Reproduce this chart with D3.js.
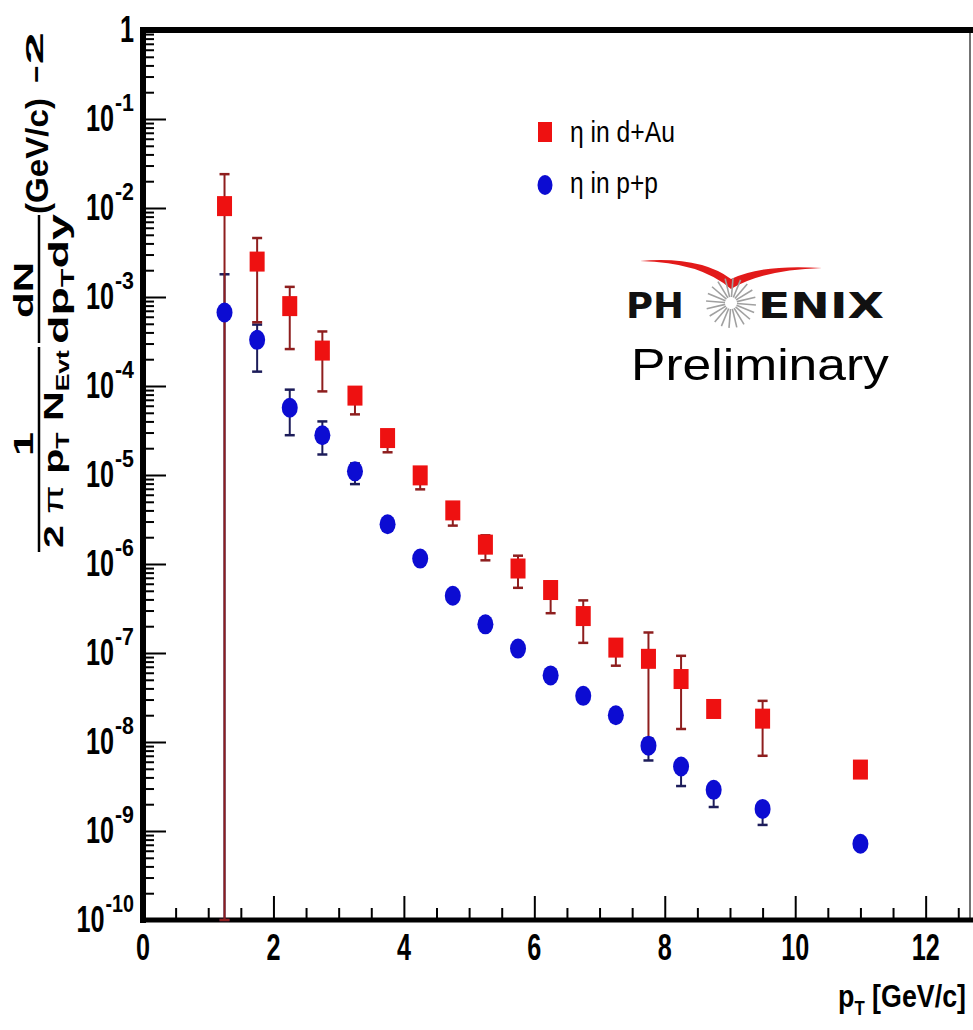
<!DOCTYPE html>
<html><head><meta charset="utf-8">
<script src="https://cdn.jsdelivr.net/npm/d3@7"></script>
<style>body{margin:0;background:#fff}svg{display:block}</style>
</head><body>
<svg id="c" width="973" height="1030"></svg>
<script>
// ---------- data ----------
const pT      = [1.25, 1.75, 2.25, 2.75, 3.25, 3.75, 4.25, 4.75, 5.25, 5.75, 6.25, 6.75, 7.25, 7.75, 8.25, 8.75, 9.5, 11];
const dAuVal  = [1.05e-2, 2.5e-3, 7.9e-4, 2.5e-4, 7.8e-5, 2.6e-5, 9.9e-6, 4.0e-6, 1.65e-6, 8.9e-7, 5.1e-7, 2.6e-7, 1.15e-7, 8.6e-8, 5.1e-8, 2.35e-8, 1.83e-8, 4.9e-9];
const dAuHi   = [2.4e-2, 4.6e-3, 1.3e-3, 4.1e-4, 9.5e-5, 3.1e-5, 1.2e-5, 4.8e-6, 2.1e-6, 1.24e-6, 6.3e-7, 3.9e-7, 1.4e-7, 1.7e-7, 9.3e-8, 2.8e-8, 2.9e-8, 5.6e-9];
const dAuLo   = [0, 5.2e-4, 2.6e-4, 8.7e-5, 4.8e-5, 1.8e-5, 6.9e-6, 2.7e-6, 1.1e-6, 5.4e-7, 2.8e-7, 1.3e-7, 7.2e-8, 1.0e-8, 1.4e-8, 2.0e-8, 7.0e-9, 4.3e-9];
const ppVal   = [6.7e-4, 3.3e-4, 5.7e-5, 2.8e-5, 1.1e-5, 2.8e-6, 1.15e-6, 4.4e-7, 2.1e-7, 1.12e-7, 5.6e-8, 3.3e-8, 2.0e-8, 9.1e-9, 5.3e-9, 2.9e-9, 1.77e-9, 7.2e-10];
const ppHi    = [1.8e-3, 4.9e-4, 9.1e-5, 4.0e-5, 1.35e-5, 3.2e-6, 1.3e-6, 5.0e-7, 2.4e-7, 1.25e-7, 6.3e-8, 3.7e-8, 2.2e-8, 1.1e-8, 6.0e-9, 3.3e-9, 2.0e-9, 8.0e-10];
const ppLo    = [0, 1.45e-4, 2.8e-5, 1.7e-5, 7.9e-6, 2.4e-6, 1.0e-6, 3.9e-7, 1.9e-7, 1.0e-7, 5.0e-8, 2.9e-8, 1.8e-8, 6.2e-9, 3.2e-9, 1.86e-9, 1.17e-9, 6.5e-10];
const seriesNames = ["η in d+Au", "η in p+p"];
const yExponents  = [0, -1, -2, -3, -4, -5, -6, -7, -8, -9, -10];
const xMajorTicks = [0, 2, 4, 6, 8, 10, 12];
const xMinorStep  = 0.5;

// ---------- setup ----------
const svg = d3.select("#c");
const FONT = "'Liberation Sans', Arial, Helvetica, sans-serif";
const x = d3.scaleLinear().domain([0, 12.68]).range([143, 970]);
const y = d3.scaleLog().domain([1e-10, 1]).range([920, 30]);
const yc = v => y(Math.max(v, 1e-10));

const RED = "#ee1111", BLUE = "#0c0cd2";
const REDERR = "#8e1e1e", BLUEERR = "#1c1c5a";

// horizontal text squeezed to a target width (scale transform, reliable anchoring)
function htext(parent, str, px, py, size, width, anchor, weight) {
  const t = parent.append("text").attr("font-family", FONT).attr("font-size", size)
    .attr("font-weight", weight || "bold").attr("text-anchor", anchor || "start").text(str);
  const w = t.node().getComputedTextLength();
  const sx = width ? width / w : 1;
  t.attr("transform", `translate(${px},${py}) scale(${sx},1)`);
  return w * sx;
}

// ---------- frame ----------
const xL = x(0), xR = x.range()[1], yT = y(1), yB = y(1e-10);
svg.append("line").attr("x1", xR).attr("x2", xR).attr("y1", yT).attr("y2", yB)
  .attr("stroke", "#444").attr("stroke-width", 1.5);

const styleTicks = g => { g.select(".domain").remove(); g.selectAll("line").attr("stroke", "#000").attr("stroke-width", 2); };
const yMajor = yExponents.map(e => Math.pow(10, e));
const yMinor = [];
yExponents.slice(1).forEach(e => { for (let k = 2; k <= 9; k++) yMinor.push(k * Math.pow(10, e)); });
svg.append("g").attr("transform", `translate(${xL},0)`)
  .call(d3.axisRight(y).tickValues(yMajor).tickSize(23).tickFormat("")).call(styleTicks);
svg.append("g").attr("transform", `translate(${xL},0)`)
  .call(d3.axisRight(y).tickValues(yMinor).tickSize(11).tickFormat("")).call(styleTicks);

const xMinor = d3.range(0, 12.68, xMinorStep).filter(v => v % 2 !== 0);
svg.append("g").attr("transform", `translate(0,${yB})`)
  .call(d3.axisTop(x).tickValues(xMajorTicks).tickSize(24).tickFormat("")).call(styleTicks);
svg.append("g").attr("transform", `translate(0,${yB})`)
  .call(d3.axisTop(x).tickValues(xMinor).tickSize(12).tickFormat("")).call(styleTicks);

svg.append("line").attr("x1", xL - 3).attr("x2", 973).attr("y1", yT).attr("y2", yT).attr("stroke", "#000").attr("stroke-width", 6);
svg.append("line").attr("x1", xL).attr("x2", xL).attr("y1", yT - 3).attr("y2", yB + 3).attr("stroke", "#000").attr("stroke-width", 6);
svg.append("line").attr("x1", xL - 3).attr("x2", 973).attr("y1", yB).attr("y2", yB).attr("stroke", "#000").attr("stroke-width", 5);

// ---------- tick labels ----------
const DIG = 14;
const xLab = svg.append("g");
xMajorTicks.forEach(v => htext(xLab, String(v), x(v), yB + 40, 37, DIG * String(v).length, "middle"));

const yLab = svg.append("g");
const RIGHT = 134;
yExponents.forEach(e => {
  const ty = y(Math.pow(10, e));
  if (e === 0) { htext(yLab, "1", RIGHT, ty + 12, 37, DIG, "end"); return; }
  const sup = String(e);
  const sw = htext(yLab, sup, RIGHT, ty - 8, 23, 9.5 * sup.length, "end");
  htext(yLab, "10", RIGHT - sw - 1, ty + 12, 37, 2 * DIG, "end");
});

// ---------- axis titles ----------
const xt = svg.append("text").attr("font-family", FONT).attr("font-size", 32).attr("font-weight", "bold").attr("text-anchor", "end");
xt.append("tspan").text("p");
xt.append("tspan").attr("dy", 8).attr("font-size", 20).text("T");
xt.append("tspan").attr("dy", -8).text(" [GeV/c]");
const xtw = xt.node().getComputedTextLength();
xt.attr("transform", `translate(966,1007) scale(${128 / xtw},1)`);

// vertical text: starts at screen y = yStart (bottom), runs upward for len px, baseline at screen x = baseX
function vtext(yStart, baseX, len, size, parts) {
  const t = svg.append("text").attr("font-family", FONT).attr("font-weight", "bold").attr("font-size", size);
  parts.forEach(p => {
    const s = t.append("tspan").text(p.t);
    if (p.dy) s.attr("dy", p.dy);
    if (p.fs) s.attr("font-size", p.fs);
    if (p.fw) s.attr("font-weight", p.fw);
  });
  const w = t.node().getComputedTextLength();
  t.attr("transform", `translate(${baseX},${yStart}) rotate(-90) scale(${len / w},1)`);
  return t;
}
// 1 / (2π pT N_Evt)
vtext(456, 33, 24, 28, [{ t: "1" }]);
svg.append("line").attr("x1", 39).attr("x2", 39).attr("y1", 347).attr("y2", 552).attr("stroke", "#000").attr("stroke-width", 2.5);
vtext(548, 63, 198, 28, [{ t: "2 " }, { t: "π", fw: "normal" }, { t: " p" }, { t: "T", dy: 6, fs: 18 }, { t: " N", dy: -6 }, { t: "Evt", dy: 6, fs: 18 }]);
// dN / dpT dy
vtext(318, 33, 56, 28, [{ t: "dN" }]);
svg.append("line").attr("x1", 39).attr("x2", 39).attr("y1", 215).attr("y2", 343).attr("stroke", "#000").attr("stroke-width", 2.5);
vtext(344, 68, 130, 28, [{ t: "dp" }, { t: "T", dy: 6, fs: 18 }, { t: "dy", dy: -6 }]);
// (GeV/c)^-2
vtext(214, 48, 116, 31, [{ t: "(GeV/c)" }]);
vtext(84, 43, 52, 24, [{ t: "-2" }]);

// ---------- error bars ----------
function errBars(hi, lo, col) {
  const g = svg.append("g").attr("stroke", col).attr("stroke-width", 2);
  pT.forEach((p, i) => {
    const cx = x(p), y1 = yc(hi[i]), y2 = yc(lo[i]);
    g.append("line").attr("x1", cx).attr("x2", cx).attr("y1", y1).attr("y2", y2);
    g.append("line").attr("x1", cx - 5).attr("x2", cx + 5).attr("y1", y1).attr("y2", y1).attr("stroke-width", 2.5);
    g.append("line").attr("x1", cx - 5).attr("x2", cx + 5).attr("y1", y2).attr("y2", y2).attr("stroke-width", 2.5);
  });
}
errBars(ppHi, ppLo, BLUEERR);
errBars(dAuHi, dAuLo, REDERR);

// ---------- markers ----------
svg.append("g").selectAll("ellipse").data(pT).join("ellipse")
  .attr("cx", d => x(d)).attr("cy", (d, i) => y(ppVal[i])).attr("rx", 8).attr("ry", 10).attr("fill", BLUE);
svg.append("g").selectAll("rect").data(pT).join("rect")
  .attr("x", d => x(d) - 7.5).attr("y", (d, i) => y(dAuVal[i]) - 10).attr("width", 15).attr("height", 20).attr("fill", RED);

// ---------- legend ----------
const leg = svg.append("g");
leg.append("rect").attr("x", 538).attr("y", 122).attr("width", 14).attr("height", 20).attr("fill", RED);
leg.append("ellipse").attr("cx", 545).attr("cy", 185).attr("rx", 7.5).attr("ry", 10).attr("fill", BLUE);
htext(leg, seriesNames[0], 570, 142, 29, 105, "start", "normal");
htext(leg, seriesNames[1], 570, 193, 29, 88, "start", "normal");

// ---------- PHENIX logo ----------
const logo = svg.append("g");
logo.append("path").attr("fill", "#e21a1a")
  .attr("d", "M640,261 Q700,262 731,289 Q762,270 822,268 Q762,264 731,279 Q700,256 640,261 Z");
const sc = [731, 303];
d3.range(20).forEach(i => {
  const a = i * Math.PI / 10 + 0.08;
  logo.append("line").attr("x1", sc[0] + 6 * Math.cos(a)).attr("y1", sc[1] + 6 * Math.sin(a))
    .attr("x2", sc[0] + 25 * Math.cos(a)).attr("y2", sc[1] + 25 * Math.sin(a))
    .attr("stroke", "#a0a0a0").attr("stroke-width", 1.6);
});
const LOGOF = "'DejaVu Sans', 'Liberation Sans', sans-serif";
[["PH", 626, 58], ["ENIX", 758, 126]].forEach(([s, lx, lw]) => {
  const t = logo.append("text").attr("font-family", LOGOF).attr("font-weight", "bold")
    .attr("font-size", 35).attr("fill", "#111").text(s);
  const w = t.node().getComputedTextLength();
  t.attr("transform", `translate(${lx},318) scale(${lw / w},1)`);
});
htext(logo, "Preliminary", 631, 380, 45, 258, "start", "normal");
</script>
</body></html>
